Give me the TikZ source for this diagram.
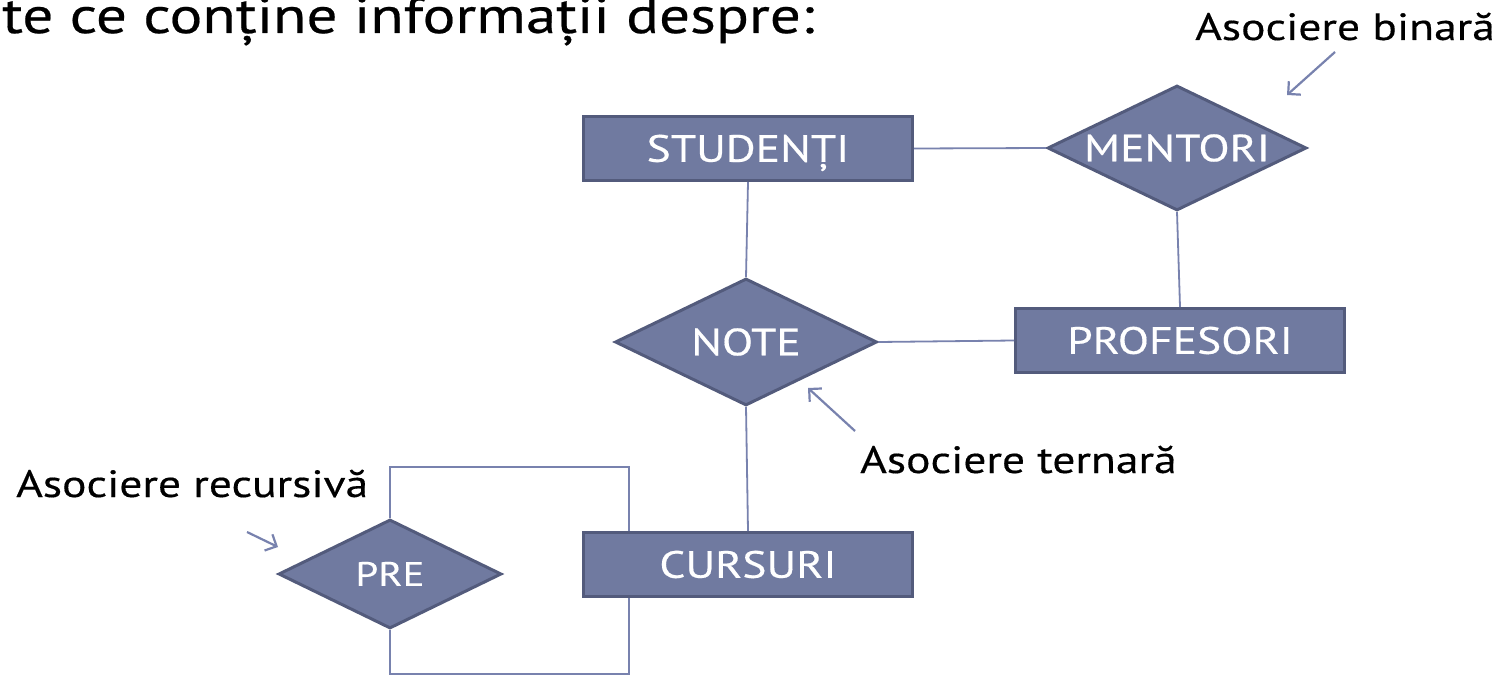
\documentclass[tikz,border=0pt]{standalone}
\usepackage{fontspec}
\setmainfont{PT Sans}[FakeStretch=1.2,FakeBold=0.4]
\usetikzlibrary{shapes.geometric,arrows.meta}
\definecolor{boxfill}{HTML}{707AA0}
\definecolor{boxline}{HTML}{535B7C}
\definecolor{conn}{HTML}{7882AE}
\tikzset{
  entity/.style={rectangle, draw=boxline, fill=boxfill, line width=3pt,
    minimum width=329pt, minimum height=64pt, inner sep=0pt,
    text=white, font=\fontsize{38}{40}\selectfont, text height=26.6pt, text depth=0pt},
  relation/.style={diamond, shape aspect=2.1, draw=boxline, fill=boxfill, line width=3pt,
    inner sep=0pt, text=white, font=\fontsize{38}{40}\selectfont,
    text height=26.6pt, text depth=0pt},
  link/.style={draw=conn, line width=1.8pt},
  pointer/.style={draw=conn, line width=2.2pt, -{Straight Barb[length=9pt,width=18pt]}},
  note/.style={font=\fontsize{38}{40}\selectfont, text=black, inner sep=0pt, anchor=base west},
}
\begin{document}
\begin{tikzpicture}[x=1pt,y=-1pt]
\useasboundingbox (0,0) rectangle (1503,676);
\clip (0,0) rectangle (1503,676);
\fill[white] (0,0) rectangle (1503,676);
% title fragment
\node[note, font=\fontsize{51}{54}\selectfont] (title) at (2,33) {te ce conține informații despre:};
% entities
\node[entity] (stud) at (748,148.5) {STUDENȚI};
\node[entity] (prof) at (1180,340.5) {PROFESORI};
\node[entity] (curs) at (748,564.5) {CURSURI};
% relationships
\node[relation, minimum width=259pt, minimum height=125pt] (ment) at (1177,148) {MENTORI};
\node[relation, minimum width=262pt, minimum height=127pt] (note) at (746,342) {NOTE};
\node[relation, minimum width=223pt, minimum height=109pt, font=\fontsize{34}{36}\selectfont, text height=23.8pt] (pre) at (390,574) {PRE};
% connectors
\draw[link] (stud.east) -- (ment.west);
\draw[link] (ment.south) -- (prof.north);
\draw[link] (stud.south) -- (note.north);
\draw[link] (note.east) -- (prof.west);
\draw[link] (note.south) -- (curs.north);
\coordinate (looptop) at (629,467);
\coordinate (loopbot) at (629,674);
\draw[link] (pre.north) |- (looptop) -- (looptop |- curs.north);
\draw[link] (pre.south) |- (loopbot) -- (loopbot |- curs.south);
% annotations
\node[note] (lbin) at (1195,40) {Asociere binară};
\node[note] (lter) at (860,473) {Asociere ternară};
\node[note] (lrec) at (16,497) {Asociere recursivă};
\coordinate (bin0) at (1335,52);
\coordinate (bin1) at (1287,95);
\coordinate (ter0) at (855,431);
\coordinate (ter1) at (808,388);
\coordinate (rec0) at (247,532);
\coordinate (rec1) at (278,547);
\draw[pointer] (bin0) -- (bin1);
\draw[pointer] (ter0) -- (ter1);
\draw[pointer] (rec0) -- (rec1);
\end{tikzpicture}
\end{document}
